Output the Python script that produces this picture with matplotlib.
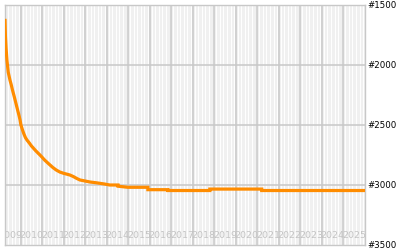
import numpy as np
import matplotlib
matplotlib.use("Agg")
import matplotlib.pyplot as plt
import matplotlib.transforms as mtransforms

# sales rank history (decimal year, rank); repeated years mark steps
years = [2009.27, 2009.29, 2009.32, 2009.36, 2009.42, 2009.50, 2009.56, 2009.62,
         2009.68, 2009.74, 2009.80, 2009.86, 2009.92, 2009.97, 2010.01, 2010.08,
         2010.15, 2010.22, 2010.29, 2010.40, 2010.50, 2010.60, 2010.70, 2010.80,
         2010.95, 2011.10, 2011.25, 2011.36, 2011.50, 2011.65, 2011.82, 2012.00,
         2012.15, 2012.29, 2012.45, 2012.60, 2012.75, 2013.00, 2013.22, 2013.45,
         2013.68, 2013.90, 2014.14, 2014.52, 2014.52, 2014.98, 2015.91, 2015.91,
         2016.84, 2016.84, 2018.79, 2018.79, 2021.20, 2021.20, 2026.00]
rank = [1615, 1760, 1860, 1960, 2060, 2125, 2165, 2210,
        2250, 2292, 2335, 2378, 2420, 2458, 2500, 2540,
        2575, 2605, 2625, 2650, 2675, 2695, 2715, 2733,
        2760, 2790, 2815, 2833, 2855, 2875, 2892, 2903,
        2910, 2917, 2930, 2945, 2958, 2967, 2975, 2980,
        2986, 2992, 3000, 3000, 3010, 3019, 3019, 3039,
        3039, 3046, 3046, 3034, 3034, 3046, 3046]

year_labels = list(range(2009, 2026))
rank_ticks = [1500, 2000, 2500, 3000, 3500]

fig = plt.figure(figsize=(4, 2.5), dpi=100)
ax = fig.add_axes([5 / 400, 5 / 250, 360 / 400, 240 / 250])
ax.set_facecolor('#f0f0f0')

# thin white lines every two months
for y in range(2009, 2026):
    for m in range(1, 12, 2):
        ax.axvline(y + m / 12, color='white', lw=0.7, zorder=0)
# year lines
for y in range(2010, 2026):
    ax.axvline(y, color='#c8c8c8', lw=1.1, zorder=1)
for r in rank_ticks[1:-1]:
    ax.axhline(r, color='#c8c8c8', lw=1.1, zorder=1)

ax.plot(years, rank, color='#ff8c00', lw=2.3, solid_joinstyle='miter',
        solid_capstyle='butt', zorder=3)

ax.set_xlim(2009.27, 2026.0)
ax.set_ylim(3500, 1500)

trans = mtransforms.blended_transform_factory(ax.transData, ax.transAxes)
for y in year_labels:
    ax.text(y + 0.5, 0.04, str(y), transform=trans, ha='center', va='center',
            fontsize=6.8, color='#c4c4c4', clip_on=True, zorder=2)

ax.set_xticks([])
ax.yaxis.tick_right()
ax.set_yticks(rank_ticks)
ax.set_yticklabels(['#%d' % r for r in rank_ticks])
ax.tick_params(axis='y', length=0, pad=2, labelsize=6.2, labelcolor='black')
for s in ax.spines.values():
    s.set_color('#c8c8c8')
    s.set_linewidth(1.0)

fig.savefig('out.png', dpi=100)
